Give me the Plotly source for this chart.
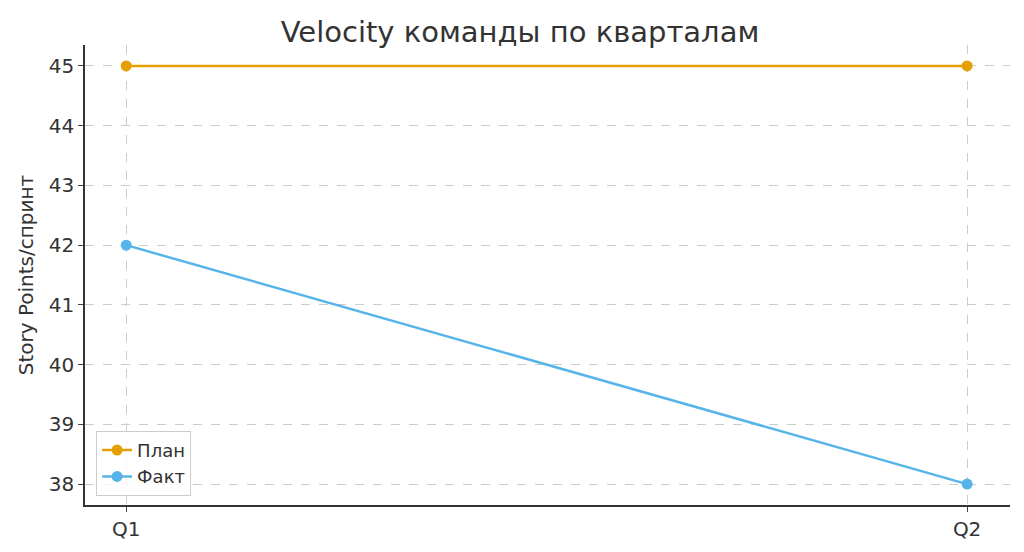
import plotly.graph_objects as go

quarters = ["Q1", "Q2"]
plan = [45, 45]
fact = [42, 38]

fig = go.Figure()
fig.add_trace(go.Scatter(
    x=[0, 1], y=plan, mode="lines+markers", name="План",
    line=dict(color="#E69F00", width=2.5), marker=dict(size=11),
))
fig.add_trace(go.Scatter(
    x=[0, 1], y=fact, mode="lines+markers", name="Факт",
    line=dict(color="#56B4E9", width=2.5), marker=dict(size=11),
))

grid = dict(showgrid=True, gridcolor="#cccccc", griddash="dash", gridwidth=1)
fig.update_layout(
    width=1024, height=552,
    paper_bgcolor="white", plot_bgcolor="white",
    font=dict(family="DejaVu Sans", size=20, color="#333333"),
    title=dict(text="Velocity команды по кварталам", x=0.5, y=0.975,
               xanchor="center", font=dict(size=29)),
    margin=dict(l=77, r=22, t=37, b=55),
    xaxis=dict(range=[-0.049, 1.051], tickvals=[0, 1], ticktext=quarters,
               showline=True, linecolor="#333333", linewidth=1.5,
               ticks="outside", ticklen=5, zeroline=False, automargin=False, **grid),
    yaxis=dict(range=[37.65, 45.35], dtick=1,
               title=dict(text="Story Points/спринт", font=dict(size=20), standoff=10),
               showline=True, linecolor="#333333", linewidth=1.5,
               ticks="outside", ticklen=5, zeroline=False, automargin=False, **grid),
    legend=dict(x=0.012, y=0.02, xanchor="left", yanchor="bottom",
                bordercolor="#cccccc", borderwidth=1, bgcolor="rgba(255,255,255,0.8)",
                font=dict(size=18)),
)
fig.write_html("out.html")
